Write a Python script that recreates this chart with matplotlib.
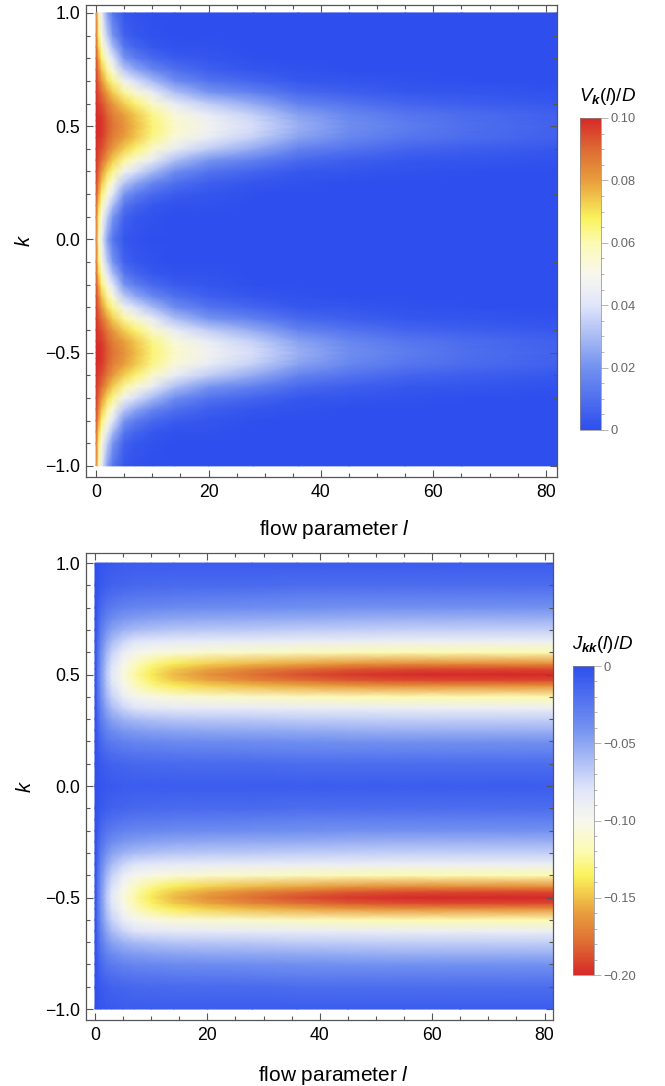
import numpy as np
import matplotlib
matplotlib.use("Agg")
import matplotlib.pyplot as plt
from matplotlib.colors import LinearSegmentedColormap
from matplotlib.ticker import MultipleLocator

plt.rcParams["font.family"] = ["Liberation Sans", "DejaVu Sans"]
plt.rcParams["mathtext.fontset"] = "custom"
plt.rcParams["mathtext.rm"] = "Liberation Sans"
plt.rcParams["mathtext.it"] = "Liberation Sans:italic"
plt.rcParams["mathtext.bf"] = "Liberation Sans:bold:italic"

# flow parameter samples and distance |k| - 1/2 from the nodes at k = +-1/2
l_vals = [0, 0.5, 1, 2, 3, 5, 7, 10, 14, 20, 28, 36, 45, 55, 65, 82]
d_vals = [0, 0.025, 0.05, 0.1, 0.15, 0.2, 0.25, 0.3, 0.35, 0.4, 0.5]

# V_k(l)/D, rows follow l_vals, columns follow d_vals
V_table = [
    [.100, .100, .100, .099, .098, .097, .095, .093, .091, .089, .086],
    [.099, .099, .098, .096, .093, .089, .084, .078, .071, .065, .058],
    [.098, .098, .097, .094, .089, .082, .074, .066, .058, .051, .044],
    [.092, .092, .091, .087, .080, .071, .062, .052, .042, .034, .024],
    [.088, .087, .086, .081, .073, .063, .052, .040, .030, .021, .012],
    [.082, .081, .080, .073, .062, .047, .033, .021, .012, .006, .002],
    [.076, .075, .074, .066, .054, .039, .025, .014, .007, .003, .001],
    [.066, .065, .064, .056, .044, .030, .017, .008, .003, .001, .000],
    [.056, .055, .053, .044, .031, .019, .010, .004, .001, .000, .000],
    [.047, .046, .044, .034, .021, .011, .005, .002, .001, .000, .000],
    [.038, .037, .035, .026, .015, .007, .002, .0005, .000, .000, .000],
    [.027, .026, .024, .016, .008, .003, .001, .000, .000, .000, .000],
    [.019, .018, .017, .011, .005, .002, .000, .000, .000, .000, .000],
    [.014, .013, .012, .007, .003, .001, .000, .000, .000, .000, .000],
    [.010, .0095, .009, .005, .002, .0005, .000, .000, .000, .000, .000],
    [.006, .0058, .0055, .003, .001, .000, .000, .000, .000, .000, .000],
]

# J_kk(l)/D, same layout
J_table = [
    [0, 0, 0, 0, 0, 0, 0, 0, 0, 0, 0],
    [-.022, -.022, -.021, -.020, -.017, -.014, -.011, -.008, -.006, -.004, -.002],
    [-.040, -.040, -.039, -.036, -.031, -.026, -.020, -.015, -.011, -.007, -.004],
    [-.065, -.064, -.062, -.057, -.049, -.040, -.031, -.023, -.016, -.010, -.006],
    [-.082, -.081, -.078, -.071, -.060, -.048, -.037, -.027, -.019, -.012, -.007],
    [-.105, -.103, -.099, -.088, -.072, -.056, -.043, -.031, -.022, -.014, -.008],
    [-.122, -.119, -.114, -.097, -.079, -.060, -.046, -.033, -.024, -.015, -.008],
    [-.138, -.134, -.127, -.103, -.083, -.063, -.048, -.035, -.025, -.016, -.008],
    [-.152, -.147, -.137, -.107, -.085, -.065, -.050, -.036, -.026, -.017, -.008],
    [-.165, -.158, -.145, -.110, -.086, -.066, -.051, -.037, -.027, -.017, -.008],
    [-.178, -.170, -.152, -.112, -.087, -.067, -.052, -.038, -.028, -.017, -.008],
    [-.188, -.178, -.157, -.115, -.088, -.068, -.053, -.039, -.029, -.018, -.008],
    [-.195, -.185, -.162, -.118, -.089, -.069, -.054, -.040, -.029, -.018, -.008],
    [-.199, -.189, -.165, -.120, -.090, -.070, -.055, -.040, -.029, -.018, -.008],
    [-.200, -.190, -.165, -.120, -.090, -.070, -.055, -.040, -.029, -.018, -.008],
    [-.200, -.190, -.165, -.120, -.090, -.070, -.055, -.040, -.029, -.018, -.008],
]

x_ticks = [0, 20, 40, 60, 80]
y_ticks = [-1.0, -0.5, 0.0, 0.5, 1.0]
y_ticklabels = ["\u22121.0", "\u22120.5", "0.0", "0.5", "1.0"]
V_cticks = [0, 0.02, 0.04, 0.06, 0.08, 0.10]
V_clabels = ["0", "0.02", "0.04", "0.06", "0.08", "0.10"]
J_cticks = [0, -0.05, -0.10, -0.15, -0.20]
J_clabels = ["0", "\u22120.05", "\u22120.10", "\u22120.15", "\u22120.20"]

temp = LinearSegmentedColormap.from_list("temperature", [
    (0.00, (0.18, 0.31, 0.93)),
    (0.20, (0.45, 0.57, 0.94)),
    (0.40, (0.88, 0.90, 0.98)),
    (0.50, (0.97, 0.97, 0.93)),
    (0.60, (0.99, 0.98, 0.70)),
    (0.68, (0.98, 0.95, 0.36)),
    (0.80, (0.91, 0.62, 0.24)),
    (0.90, (0.87, 0.42, 0.20)),
    (1.00, (0.84, 0.16, 0.16)),
])

d = np.array(d_vals)
k_axis = np.concatenate([-0.5 - d[::-1], -0.5 + d[1:],
                         0.5 - d[::-1][1:], 0.5 + d[1:]])


def mirror(table):
    # fold the table out to k in [-1, 1], symmetric about k = +-1/2
    t = np.asarray(table, dtype=float)
    return np.hstack([t[:, ::-1], t[:, 1:], t[:, ::-1][:, 1:], t[:, 1:]]).T


fig = plt.figure(figsize=(6.65, 10.86), dpi=100)
ax1 = fig.add_axes([0.1293, 0.5608, 0.7083, 0.4346])
cax1 = fig.add_axes([0.8722, 0.6041, 0.0316, 0.2873])
ax2 = fig.add_axes([0.1293, 0.0608, 0.7023, 0.4300])
cax2 = fig.add_axes([0.8617, 0.1022, 0.0316, 0.2845])

m1 = ax1.pcolormesh(l_vals, k_axis, mirror(V_table), shading="gouraud",
                    cmap=temp, vmin=0, vmax=0.1, rasterized=True)
m2 = ax2.pcolormesh(l_vals, k_axis, mirror(J_table), shading="gouraud",
                    cmap=temp.reversed(), vmin=-0.2, vmax=0, rasterized=True)
ax1.set_xlim(-1.8, 82)
ax1.set_ylim(-1.049, 1.035)
ax2.set_xlim(-1.6, 81.5)
ax2.set_ylim(-1.049, 1.045)

frame_c = "#555555"
for ax in (ax1, ax2):
    ax.set_xticks(x_ticks)
    ax.set_yticks(y_ticks)
    ax.set_yticklabels(y_ticklabels)
    ax.xaxis.set_minor_locator(MultipleLocator(5))
    ax.yaxis.set_minor_locator(MultipleLocator(0.1))
    ax.tick_params(which="both", direction="in", top=True, right=True,
                   color=frame_c, labelsize=12.7, width=0.8)
    ax.tick_params(which="major", length=5)
    ax.tick_params(which="minor", length=3)
    ax.tick_params(axis="x", pad=5)
    ax.tick_params(axis="y", pad=4)
    for s in ax.spines.values():
        s.set_color(frame_c)
        s.set_linewidth(0.9)
    ax.set_xlabel("flow parameter $l$", fontsize=15)
    ax.set_ylabel("$k$", fontsize=14.5)
    ax.yaxis.set_label_coords(-0.11, 0.5)

ax1.xaxis.set_label_coords(0.527, -0.086)
ax2.xaxis.set_label_coords(0.53, -0.095)

grey = "#666666"
for cax, m, ticks, labels, minor, title in (
        (cax1, m1, V_cticks, V_clabels, 0.005, r"$V_{\mathbf{k}}(l)/D$"),
        (cax2, m2, J_cticks, J_clabels, 0.01, r"$J_{\mathbf{kk}}(l)/D$")):
    cb = fig.colorbar(m, cax=cax)
    cb.set_ticks(ticks)
    cb.set_ticklabels(labels)
    cax.yaxis.set_minor_locator(MultipleLocator(minor))
    cax.tick_params(which="both", color="#aaaaaa", labelcolor=grey,
                    labelsize=9.3, width=0.6)
    cax.tick_params(which="major", length=5, pad=2)
    cax.tick_params(which="minor", length=2.5)
    cb.outline.set_edgecolor("#888888")
    cb.outline.set_linewidth(0.5)
    cax.set_title(title, fontsize=13.5, pad=12, loc="left", x=-0.05)

fig.savefig("out.png", dpi=100)
